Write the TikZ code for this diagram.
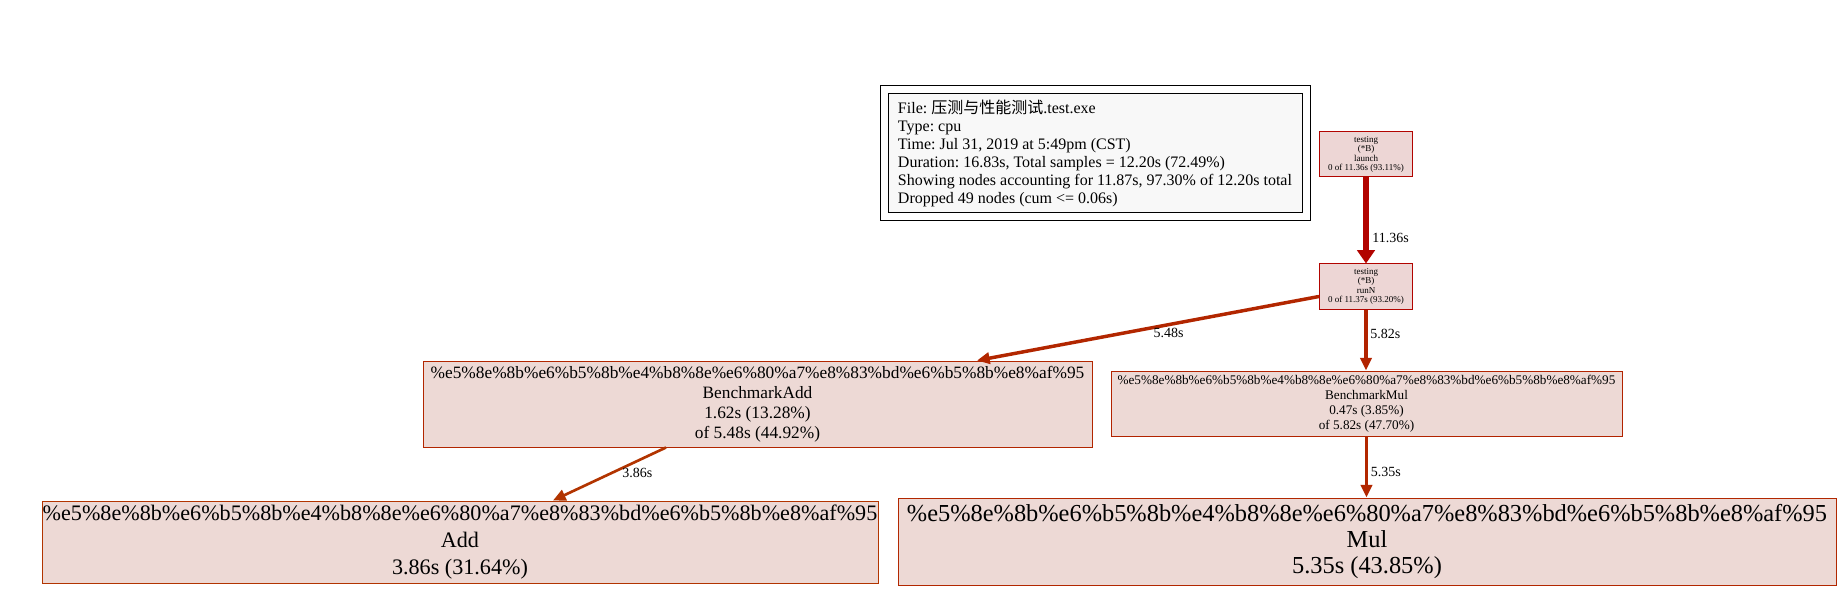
\documentclass[tikz,border=0pt]{standalone}
\usepackage{fontspec}
\setmainfont{Liberation Serif}
\newfontfamily\cjkfont{Noto Sans CJK SC}
\usetikzlibrary{arrows.meta,positioning,calc}
\definecolor{hotline}{HTML}{B20400}
\definecolor{hotfill}{HTML}{EDD6D5}
\definecolor{addline}{HTML}{B22600}
\definecolor{mulline}{HTML}{B22300}
\definecolor{leafadd}{HTML}{B23400}
\definecolor{leafmul}{HTML}{B22700}
\definecolor{warmfill}{HTML}{EDD9D5}
\definecolor{legendfill}{HTML}{F8F8F8}
\frenchspacing

\begin{document}
\begin{tikzpicture}[x=0.75pt,y=-0.75pt,
 fn/.style={draw=#1,line width=0.75pt,align=center,inner sep=0pt},
 legendbox/.style={draw=black,line width=0.75pt,inner sep=0pt},
 lbl/.style={font=\fontsize{10.5}{12}\selectfont,inner sep=1pt},
 hot/.style={-{Triangle[length=10pt,width=13pt]},line width=4.5pt,draw=hotline},
 arr/.style={-{Triangle[length=9.5pt,width=8.5pt]},line width=2.6pt,draw=#1}]
\useasboundingbox (0,0) rectangle (1845,595);
% legend
\node[legendbox,fill=legendfill,align=left,minimum width=310.5pt,minimum height=89.25pt,
 font=\fontsize{12}{13.5}\selectfont] (legend) at (1095,153.5)
 {File: {\cjkfont 压测与性能测试}.test.exe\\Type: cpu\\Time: Jul 31, 2019 at 5:49pm (CST)\\
  Duration: 16.83s, Total samples = 12.20s (72.49\%)\\
  Showing nodes accounting for 11.87s, 97.30\% of 12.20s total\\Dropped 49 nodes (cum <= 0.06s)};
\node[legendbox,minimum width=322.5pt,minimum height=101.25pt] (legendframe) at (legend) {};
% call graph
\node[fn=hotline,fill=hotfill,minimum width=69.75pt,minimum height=33.75pt,font=\fontsize{6.75}{7}\selectfont]
 (launch) at (1366,154.5) {testing\\(*B)\\launch\\0 of 11.36s (93.11\%)};
\node[fn=hotline,fill=hotfill,minimum width=69.75pt,minimum height=33.75pt,font=\fontsize{6.75}{7}\selectfont]
 (runN) at (1366,286.5) {testing\\(*B)\\runN\\0 of 11.37s (93.20\%)};
\node[fn=addline,fill=warmfill,minimum width=501.75pt,minimum height=64.5pt,font=\fontsize{13}{15}\selectfont]
 (badd) at (757.5,404) {\%e5\%8e\%8b\%e6\%b5\%8b\%e4\%b8\%8e\%e6\%80\%a7\%e8\%83\%bd\%e6\%b5\%8b\%e8\%af\%95\\BenchmarkAdd\\1.62s (13.28\%)\\of 5.48s (44.92\%)};
\node[fn=mulline,fill=warmfill,minimum width=383.25pt,minimum height=48.75pt,font=\fontsize{9.9}{11.25}\selectfont]
 (bmul) at (1366.5,403.5) {\%e5\%8e\%8b\%e6\%b5\%8b\%e4\%b8\%8e\%e6\%80\%a7\%e8\%83\%bd\%e6\%b5\%8b\%e8\%af\%95\\BenchmarkMul\\0.47s (3.85\%)\\of 5.82s (47.70\%)};
\node[fn=leafadd,fill=warmfill,minimum width=627pt,minimum height=61.5pt,font=\fontsize{16.6}{20.3}\selectfont]
 (addn) at (460,542) {\%e5\%8e\%8b\%e6\%b5\%8b\%e4\%b8\%8e\%e6\%80\%a7\%e8\%83\%bd\%e6\%b5\%8b\%e8\%af\%95\\Add\\3.86s (31.64\%)};
\node[fn=leafmul,fill=warmfill,minimum width=703.5pt,minimum height=65.25pt,font=\fontsize{18.3}{19.8}\selectfont]
 (muln) at (1367,541.5) {\%e5\%8e\%8b\%e6\%b5\%8b\%e4\%b8\%8e\%e6\%80\%a7\%e8\%83\%bd\%e6\%b5\%8b\%e8\%af\%95\\Mul\\5.35s (43.85\%)};
% edges
\draw[hot] (launch.south) -- (runN.north) node[lbl,anchor=west,pos=0.7,xshift=1.5pt] {11.36s};
\draw[arr=addline] (runN.192) -- ($(badd.north)+(219.5,0)$) node[lbl,anchor=north,pos=0.44] {5.48s};
\draw[arr=mulline] (runN.south) -- (runN.south |- bmul.north) node[lbl,anchor=west,pos=0.4,xshift=1pt] {5.82s};
\draw[arr=leafadd,line width=2pt] ($(badd.south)+(-91.5,0)$) -- ($(addn.north)+(93,0)$) node[lbl,anchor=west,pos=0.48,xshift=6pt] {3.86s};
\draw[arr=leafmul] (bmul.south) -- (bmul.south |- muln.north) node[lbl,anchor=west,pos=0.58,xshift=1pt] {5.35s};
\end{tikzpicture}
\end{document}
